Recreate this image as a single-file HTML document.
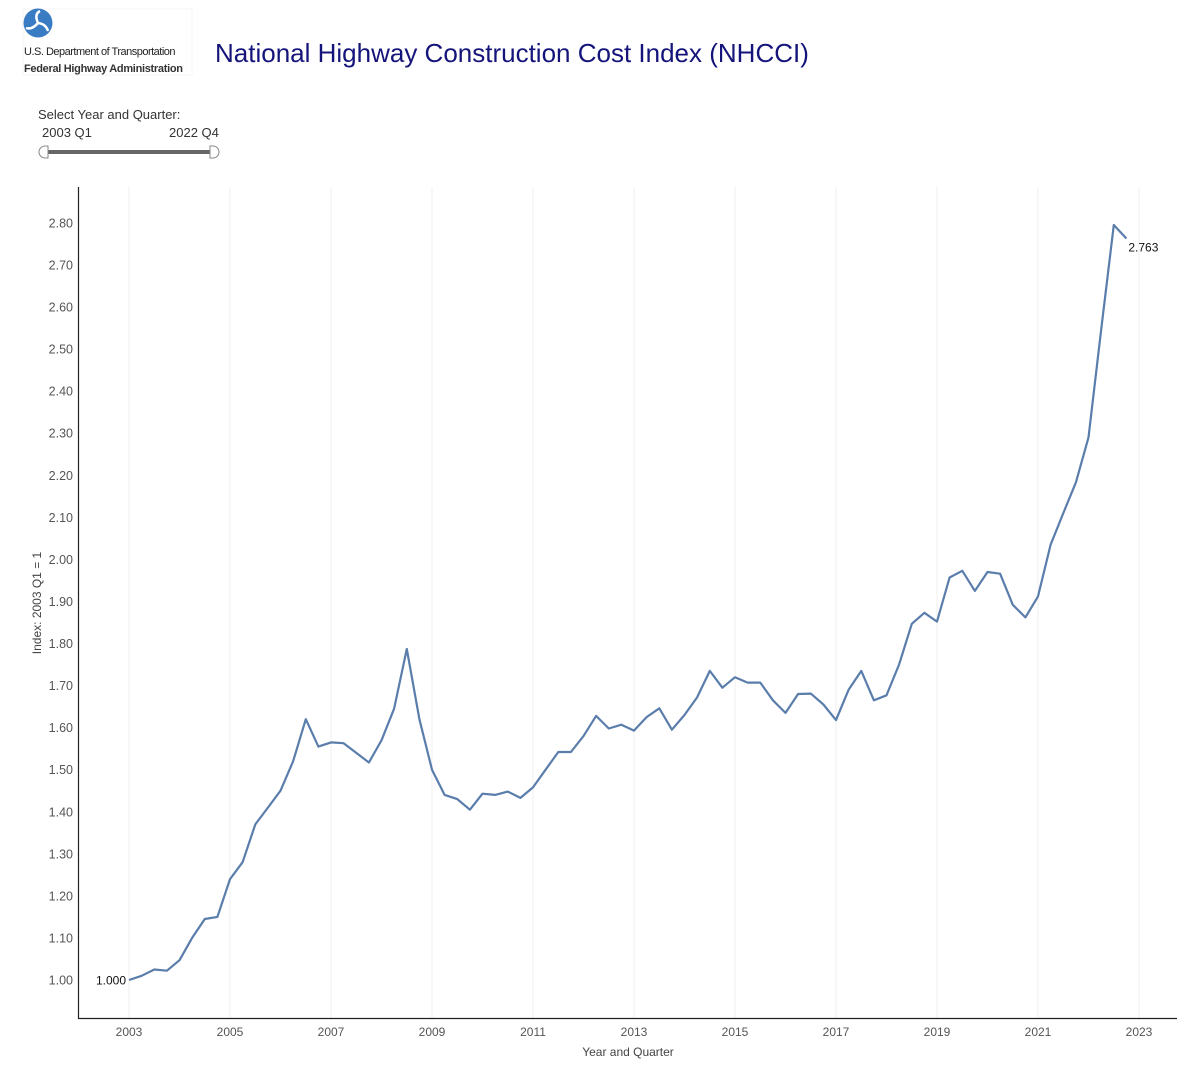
<!DOCTYPE html>
<html><head><meta charset="utf-8"><style>
body{margin:0;background:#fff;font-family:"Liberation Sans",Arial,sans-serif;}
#wrap{position:relative;width:1200px;height:1068px;overflow:hidden;}
</style></head><body>
<div id="wrap">
<svg width="1200" height="1068" style="position:absolute;left:0;top:0">
  <g>
    <rect x="23" y="9" width="169" height="66" fill="#fff" stroke="#f4f4f4"/>
    <circle cx="38" cy="23" r="14.5" fill="#3a7cc4"/>
    <g stroke="#fff" stroke-width="2.5" fill="none">
      <path d="M38 23 Q34 14 40 11"/><path d="M38 23 Q46 24 48 31"/><path d="M38 23 Q32 30 26 28"/>
    </g>
    <text x="24" y="55" font-size="11" fill="#222" letter-spacing="-0.5">U.S. Department of Transportation</text>
    <text x="24" y="72" font-size="11" font-weight="bold" fill="#333" letter-spacing="-0.3">Federal Highway Administration</text>
  </g>
  <text x="215" y="62" font-size="26" fill="#14147a">National Highway Construction Cost Index (NHCCI)</text>
  <g>
    <text x="38" y="119" font-size="13" fill="#333">Select Year and Quarter:</text>
    <text x="42" y="137" font-size="13" fill="#333">2003 Q1</text>
    <text x="169" y="137" font-size="13" fill="#333">2022 Q4</text>
    <rect x="46" y="150" width="166" height="4" fill="#666"/>
    <path d="M48 146 h-3 a6 6 0 0 0 0 12 h3 z" fill="#fff" stroke="#888"/>
    <path d="M210 146 h3 a6 6 0 0 1 0 12 h-3 z" fill="#fff" stroke="#888"/>
  </g>
  <g id="chart"></g>
</svg>
</div>
<script>
const years = [2003,2005,2007,2009,2011,2013,2015,2017,2019,2021,2023];
const yTicks = ["1.00","1.10","1.20","1.30","1.40","1.50","1.60","1.70","1.80","1.90","2.00","2.10","2.20","2.30","2.40","2.50","2.60","2.70","2.80"];
const startYear = 2003;
const nhcci = [
1.000,1.010,1.025,1.022, 1.047,1.100,1.145,1.150, 1.240,1.280,1.370,1.410,
1.450,1.520,1.620,1.555, 1.565,1.563,1.540,1.517, 1.570,1.645,1.787,1.620,
1.500,1.440,1.430,1.405, 1.443,1.440,1.448,1.433, 1.458,1.500,1.542,1.542,
1.580,1.628,1.598,1.607, 1.593,1.625,1.646,1.595, 1.630,1.672,1.735,1.695,
1.720,1.707,1.707,1.665, 1.635,1.680,1.681,1.655, 1.618,1.690,1.735,1.665,
1.677,1.750,1.847,1.873, 1.852,1.957,1.973,1.925, 1.970,1.966,1.892,1.862,
1.912,2.035,2.110,2.183, 2.290,2.545,2.795,2.763];

const NS="http://www.w3.org/2000/svg";
const g=document.getElementById('chart');
function x(t){return 129+(t-2003)*50.5;}
function y(v){return 980-(v-1)*420.6;}
function mk(tag,attrs,txt){const e=document.createElementNS(NS,tag);for(const k in attrs)e.setAttribute(k,attrs[k]);if(txt!==undefined)e.textContent=txt;g.appendChild(e);return e;}

years.forEach(yr=>{
  const l=mk('line',{x1:x(yr),x2:x(yr),y1:187,y2:1018,stroke:'#efefef','stroke-width':1});
  
  
  const t=mk('text',{x:x(yr),y:1036,'font-size':12,fill:'#555','text-anchor':'middle'},String(yr));
  
  
});
yTicks.forEach(s=>{
  const t=mk('text',{x:73,y:y(parseFloat(s))+4.5,'font-size':12.5,fill:'#555','text-anchor':'end'},s);
  
  
});
const ya=mk('line',{x1:78.5,x2:78.5,y1:187,y2:1019,stroke:'#222','stroke-width':1.2});


const xa=mk('line',{x1:78,x2:1177,y1:1018.5,y2:1018.5,stroke:'#222','stroke-width':1.2});


const xt=mk('text',{x:628,y:1056,'font-size':12,fill:'#444','text-anchor':'middle'},'Year and Quarter');


const yt=mk('text',{x:0,y:0,'font-size':12,fill:'#444','text-anchor':'middle',transform:'translate(41,603) rotate(-90)'},'Index: 2003 Q1 = 1');



let d='';
nhcci.forEach((v,i)=>{const t=startYear+i/4;d+=(i?'L':'M')+x(t).toFixed(1)+' '+y(v).toFixed(1);});
const p=mk('path',{d:d,fill:'none',stroke:'#5a7dab','stroke-width':2.2,'stroke-linejoin':'round'});



const f=nhcci[0], l=nhcci[nhcci.length-1], lt=startYear+(nhcci.length-1)/4;
const a1=mk('text',{x:x(startYear)-3,y:y(f)+4.5,'font-size':12,fill:'#111','text-anchor':'end'},f.toFixed(3));


const a2=mk('text',{x:x(lt)+2,y:y(l)+13,'font-size':12,fill:'#111'},l.toFixed(3));


</script>
</body></html>
